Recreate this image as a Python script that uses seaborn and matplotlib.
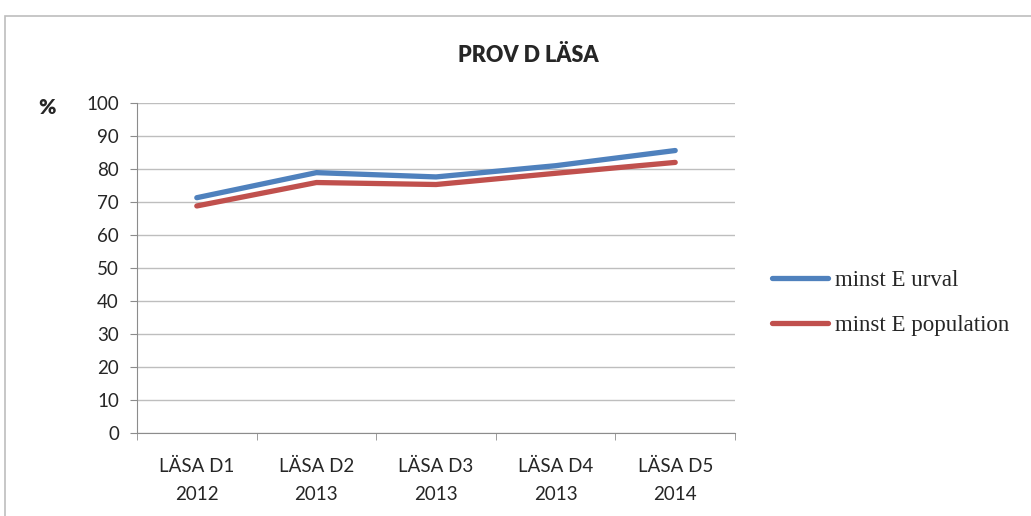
import pandas as pd
import matplotlib.pyplot as plt
import seaborn as sns
from matplotlib.patches import Rectangle

# Data
categories = ['LÄSA D1\n2012', 'LÄSA D2\n2013', 'LÄSA D3\n2013', 'LÄSA D4\n2013', 'LÄSA D5\n2014']
urval = [71.3, 78.9, 77.6, 81.0, 85.6]
population = [68.8, 75.9, 75.3, 78.7, 82.0]
series_names = ['minst E urval', 'minst E population']

df = pd.DataFrame({
    'prov': categories * 2,
    'varde': urval + population,
    'serie': [series_names[0]] * 5 + [series_names[1]] * 5,
})

sns.set_style("white")
plt.rcParams['font.family'] = ['Lato', 'DejaVu Sans']

fig = plt.figure(figsize=(10.31, 5.16), dpi=100)
ax = fig.add_axes([137 / 1031, 1 - 433 / 516, 598 / 1031, 330 / 516])

sns.lineplot(data=df, x='prov', y='varde', hue='serie', sort=False,
             palette=['#4F81BD', '#C0504D'], linewidth=3.8, ax=ax, legend=False)

ax.set_xlim(-0.5, 4.5)
ax.set_ylim(0, 100)
ax.set_yticks(range(0, 101, 10))
ax.set_xlabel('')
ax.set_ylabel('')
ax.yaxis.grid(True, color='#BEBEBE', linewidth=1)
ax.set_axisbelow(True)
for side in ['top', 'right']:
    ax.spines[side].set_visible(False)
for side in ['left', 'bottom']:
    ax.spines[side].set_color('#8C8C8C')
ax.tick_params(axis='y', labelsize=13.5, length=5, color='#8C8C8C', direction='out', left=True, pad=8)
ax.tick_params(axis='x', labelsize=13.5, length=0, pad=18)
ax.set_xticks(range(5))
ax.set_xticklabels(categories, linespacing=1.75)
# category boundary ticks
ax.set_xticks([i - 0.5 for i in range(6)], minor=True)
ax.tick_params(axis='x', which='minor', length=5, color='#8C8C8C', bottom=True)

fig.text(528 / 1031, 1 - 56 / 516, 'PROV D LÄSA', ha='center', va='center',
         fontsize=15.5, fontweight='heavy')
fig.text(47 / 1031, 1 - 108 / 516, '%', ha='center', va='center',
         fontsize=15, fontweight='heavy')

# legend drawn by hand in figure coords
leg_colors = ['#4F81BD', '#C0504D']
leg_y = [278, 323]
for name, col, y in zip(series_names, leg_colors, leg_y):
    fig.lines.append(plt.Line2D([772 / 1031, 828 / 1031], [1 - y / 516, 1 - y / 516],
                                color=col, linewidth=3.8, solid_capstyle='round',
                                transform=fig.transFigure))
    fig.text(835 / 1031, 1 - (y + 2) / 516, name, ha='left', va='center',
             fontsize=16.5, family='Liberation Serif')

# outer chart frame
fig.patches.append(Rectangle((5 / 1031, -0.1), 1.1, 1 - 16 / 516 + 0.1,
                             transform=fig.transFigure, fill=False,
                             edgecolor='#BEBEBE', linewidth=1.2))

fig.savefig('out.png', dpi=100)
